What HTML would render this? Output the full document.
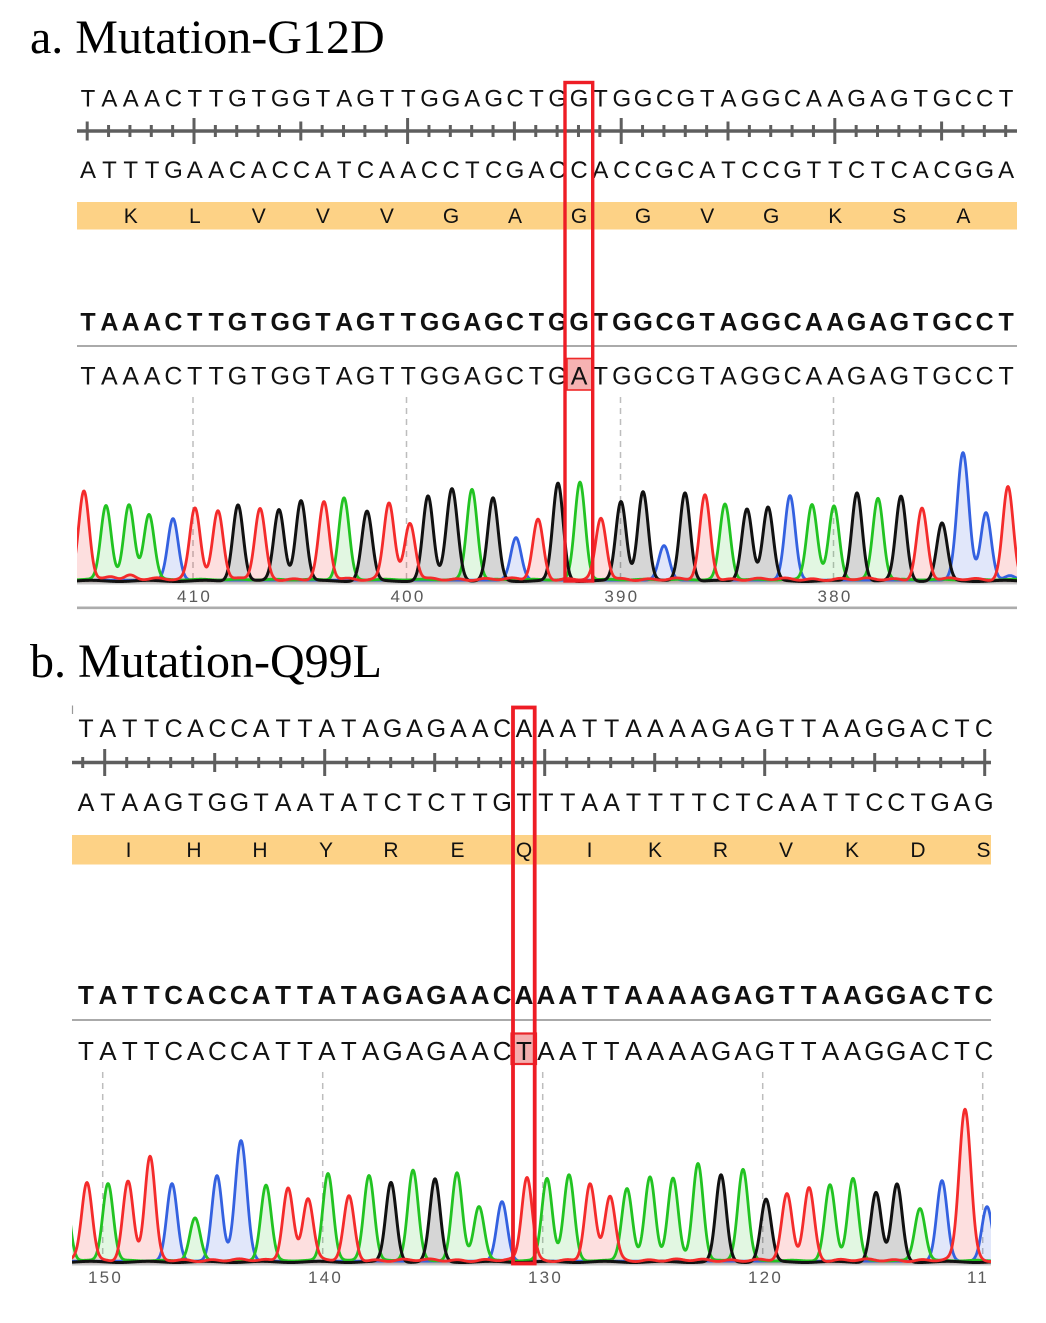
<!DOCTYPE html>
<html>
<head>
<meta charset="utf-8">
<style>
html,body{margin:0;padding:0;background:#fff;}
svg{display:block;}
.title{font-family:"Liberation Serif",serif;font-size:48px;fill:#000;}
.sq{font-family:"Liberation Sans",sans-serif;fill:#111;text-anchor:middle;}
.bd{font-weight:bold;}
.lbl{font-family:"Liberation Sans",sans-serif;font-size:17px;fill:#5a5a5a;letter-spacing:2.2px;text-anchor:middle;}
</style>
</head>
<body>
<svg id="root" width="1046" height="1323" viewBox="0 0 1046 1323" xmlns="http://www.w3.org/2000/svg">
<defs>
<clipPath id="cp1"><rect x="77" y="380" width="940" height="205"/></clipPath>
<clipPath id="cp2"><rect x="72" y="1060" width="919" height="206"/></clipPath>
</defs>

<!-- Titles -->
<text class="title" x="30" y="53">a. Mutation-G12D</text>
<text class="title" x="30" y="677">b. Mutation-Q99L</text>

<!-- ===== Section A ===== -->
<rect x="77" y="202" width="940" height="27.5" fill="#fdd286"/>
<line x1="77" y1="131" x2="1017" y2="131" stroke="#5e5e5e" stroke-width="3.4"/>
<g id="ticksA"></g>

<text class="sq" font-size="24" y="106.5" x="88 109.4 130.7 152.1 173.4 194.8 216.1 237.5 258.8 280.2 301.5 322.9 344.2 365.6 386.9 408.3 429.6 451 472.3 493.7 515 536.4 557.7 579.1 600.4 621.8 643.1 664.5 685.8 707.2 728.5 749.9 771.2 792.6 813.9 835.3 856.6 878 899.3 920.7 942 963.4 984.7 1006.1">TAAACTTGTGGTAGTTGGAGCTGGTGGCGTAGGCAAGAGTGCCT</text>
<text class="sq" font-size="24" y="178" x="88 109.4 130.7 152.1 173.4 194.8 216.1 237.5 258.8 280.2 301.5 322.9 344.2 365.6 386.9 408.3 429.6 451 472.3 493.7 515 536.4 557.7 579.1 600.4 621.8 643.1 664.5 685.8 707.2 728.5 749.9 771.2 792.6 813.9 835.3 856.6 878 899.3 920.7 942 963.4 984.7 1006.1">ATTTGAACACCATCAACCTCGACCACCGCATCCGTTCTCACGGA</text>
<text class="sq" font-size="21" y="223" x="130.7 194.8 258.8 322.9 386.9 451 515 579.1 643.1 707.2 771.2 835.3 899.3 963.4">KLVVVGAGGVGKSA</text>

<text class="sq bd" font-size="25" y="330.5" x="88 109.4 130.7 152.1 173.4 194.8 216.1 237.5 258.8 280.2 301.5 322.9 344.2 365.6 386.9 408.3 429.6 451 472.3 493.7 515 536.4 557.7 579.1 600.4 621.8 643.1 664.5 685.8 707.2 728.5 749.9 771.2 792.6 813.9 835.3 856.6 878 899.3 920.7 942 963.4 984.7 1006.1">TAAACTTGTGGTAGTTGGAGCTGGTGGCGTAGGCAAGAGTGCCT</text>
<line x1="77" y1="346" x2="1017" y2="346" stroke="#aaaaaa" stroke-width="2"/>
<rect x="567" y="358.5" width="25" height="31.5" fill="#f6b2b2" stroke="#ee2a2a" stroke-width="1.6"/>
<text class="sq" font-size="25" y="384.5" x="88 109.4 130.7 152.1 173.4 194.8 216.1 237.5 258.8 280.2 301.5 322.9 344.2 365.6 386.9 408.3 429.6 451 472.3 493.7 515 536.4 557.7 579.1 600.4 621.8 643.1 664.5 685.8 707.2 728.5 749.9 771.2 792.6 813.9 835.3 856.6 878 899.3 920.7 942 963.4 984.7 1006.1">TAAACTTGTGGTAGTTGGAGCTGATGGCGTAGGCAAGAGTGCCT</text>

<g stroke="#bdbdbd" stroke-width="1.5" stroke-dasharray="6,5">
<line x1="193" y1="397" x2="193" y2="580"/>
<line x1="406.5" y1="397" x2="406.5" y2="580"/>
<line x1="620.5" y1="397" x2="620.5" y2="580"/>
<line x1="833.5" y1="397" x2="833.5" y2="580"/>
</g>
<line x1="77" y1="583.5" x2="1017" y2="583.5" stroke="#c8c8c8" stroke-width="2"/>
<g id="chromA" clip-path="url(#cp1)"></g>
<text class="lbl" x="194.5" y="602">410</text>
<text class="lbl" x="408" y="602">400</text>
<text class="lbl" x="621.8" y="602">390</text>
<text class="lbl" x="835" y="602">380</text>
<line x1="77" y1="607.8" x2="1017" y2="607.8" stroke="#acacac" stroke-width="2.6"/>

<rect x="565" y="82.5" width="27.7" height="498.5" fill="none" stroke="#ee1d25" stroke-width="3.4"/>

<!-- ===== Section B ===== -->
<line x1="72.5" y1="705.5" x2="72.5" y2="714" stroke="#999" stroke-width="1.2"/>
<rect x="72" y="835" width="919" height="29.5" fill="#fdd286"/>
<line x1="72" y1="762.5" x2="991" y2="762.5" stroke="#5e5e5e" stroke-width="3.4"/>
<g id="ticksB"></g>

<text class="sq" font-size="25" y="737" x="86 107.9 129.8 151.7 173.6 195.5 217.4 239.3 261.2 283.1 305 326.9 348.8 370.7 392.6 414.5 436.4 458.3 480.2 502.1 524 545.9 567.8 589.7 611.6 633.5 655.4 677.3 699.2 721.1 743 764.9 786.8 808.7 830.6 852.5 874.4 896.3 918.2 940.1 962 983.9">TATTCACCATTATAGAGAACAAATTAAAAGAGTTAAGGACTC</text>
<text class="sq" font-size="25" y="811" x="86 107.9 129.8 151.7 173.6 195.5 217.4 239.3 261.2 283.1 305 326.9 348.8 370.7 392.6 414.5 436.4 458.3 480.2 502.1 524 545.9 567.8 589.7 611.6 633.5 655.4 677.3 699.2 721.1 743 764.9 786.8 808.7 830.6 852.5 874.4 896.3 918.2 940.1 962 983.9">ATAAGTGGTAATATCTCTTGTTTAATTTTCTCAATTCCTGAG</text>
<text class="sq" font-size="21" y="857" x="128.5 194 260 326 391 457.5 524 589.5 655 720.5 786 852 918 983.5">IHHYREQIKRVKDS</text>

<text class="sq bd" font-size="26" y="1004" x="86 107.9 129.8 151.7 173.6 195.5 217.4 239.3 261.2 283.1 305 326.9 348.8 370.7 392.6 414.5 436.4 458.3 480.2 502.1 524 545.9 567.8 589.7 611.6 633.5 655.4 677.3 699.2 721.1 743 764.9 786.8 808.7 830.6 852.5 874.4 896.3 918.2 940.1 962 983.9">TATTCACCATTATAGAGAACAAATTAAAAGAGTTAAGGACTC</text>
<line x1="72" y1="1020" x2="991" y2="1020" stroke="#aaaaaa" stroke-width="2"/>
<rect x="511.5" y="1033.5" width="24.5" height="30.5" fill="#f4aeae" stroke="#e8262a" stroke-width="2.2"/>
<text class="sq" font-size="26" y="1060" x="86 107.9 129.8 151.7 173.6 195.5 217.4 239.3 261.2 283.1 305 326.9 348.8 370.7 392.6 414.5 436.4 458.3 480.2 502.1 524 545.9 567.8 589.7 611.6 633.5 655.4 677.3 699.2 721.1 743 764.9 786.8 808.7 830.6 852.5 874.4 896.3 918.2 940.1 962 983.9">TATTCACCATTATAGAGAACTAATTAAAAGAGTTAAGGACTC</text>

<g stroke="#bdbdbd" stroke-width="1.5" stroke-dasharray="6,5">
<line x1="102.7" y1="1072" x2="102.7" y2="1262"/>
<line x1="322.7" y1="1072" x2="322.7" y2="1262"/>
<line x1="542.7" y1="1072" x2="542.7" y2="1262"/>
<line x1="762.7" y1="1072" x2="762.7" y2="1262"/>
<line x1="982.7" y1="1072" x2="982.7" y2="1262"/>
</g>
<line x1="72" y1="1264.5" x2="991" y2="1264.5" stroke="#c8c8c8" stroke-width="2"/>
<g id="chromB" clip-path="url(#cp2)"></g>
<text class="lbl" x="105.5" y="1283">150</text>
<text class="lbl" x="325.5" y="1283">140</text>
<text class="lbl" x="545.5" y="1283">130</text>
<text class="lbl" x="765.5" y="1283">120</text>
<text class="lbl" x="967" y="1283" style="text-anchor:start">11</text>

<rect x="513" y="707.5" width="21.7" height="556" fill="none" stroke="#ee1d25" stroke-width="3.8"/>
</svg>

<script>
(function(){
var NS='http://www.w3.org/2000/svg';
function el(tag,attrs,parent){var e=document.createElementNS(NS,tag);for(var k in attrs)e.setAttribute(k,attrs[k]);parent.appendChild(e);return e;}

function ticks(id,x0,step,n,y,tall,med,ht,hm,hs){
  var g=document.getElementById(id);var d='';
  for(var k=0;k<n;k++){
    var x=(x0+step*k).toFixed(2);
    var h=tall.indexOf(k)>=0?ht:(med.indexOf(k)>=0?hm:hs);
    d+='M'+x+' '+(y-h)+'V'+(y+h);
  }
  el('path',{d:d,stroke:'#5e5e5e','stroke-width':3,fill:'none'},g);
}
ticks('ticksA',87.2,21.36,44,131,[5,15,25,35],[0,10,20,30,40],13,9.5,6);
ticks('ticksB',82.7,22,42,762.5,[1,11,21,31,41],[6,16,26,36],13.5,9.5,5.5);

function chrom(id,peaks,base,x0,x1){
  var g=document.getElementById(id);
  var sig=5.2;
  var cols={r:'#f42b2b',g:'#22c322',b:'#3461e0',k:'#111111'};
  var fills={r:'rgba(244,43,43,0.15)',g:'rgba(34,195,34,0.13)',b:'rgba(52,97,224,0.15)',k:'rgba(0,0,0,0.16)'};
  var offs={r:-1.3,g:-0.9,b:-0.4,k:0.4};
  var order=['b','g','k','r'];
  var paths={};
  order.forEach(function(c){
    var ps=peaks.filter(function(p){return p[2]===c;});
    var pts=[];
    for(var x=x0-2;x<=x1+2;x+=0.5){
      var y=base+offs[c];
      if(c==='r')y+=0.9*Math.sin(x*0.23)+0.5*Math.sin(x*0.071);
      if(c==='k')y+=0.6*Math.sin(x*0.11+1);
      if(c==='g')y+=0.4*Math.sin(x*0.17+2);
      for(var i=0;i<ps.length;i++){
        var p=ps[i];var h=base-p[1];var s=p[3]||sig;var dd=x-p[0];
        y-=h*Math.exp(-dd*dd/(2*s*s));
      }
      pts.push([x,y]);
    }
    paths[c]=pts;
  });
  order.forEach(function(c){
    var d='M'+(x0-2)+' '+(base+2);
    paths[c].forEach(function(p){d+='L'+p[0].toFixed(1)+' '+p[1].toFixed(2);});
    d+='L'+(x1+2)+' '+(base+2)+'Z';
    el('path',{d:d,fill:fills[c],stroke:'none'},g);
  });
  order.forEach(function(c){
    var d='M'+paths[c].map(function(p){return p[0].toFixed(1)+' '+p[1].toFixed(2);}).join('L');
    el('path',{d:d,fill:'none',stroke:cols[c],'stroke-width':(c==='k'?3:2.8),'stroke-linejoin':'round'},g);
  });
}

var A=[[84,492,'r'],[106,506,'g'],[129,506,'g'],[149,515,'g'],[173,519,'b'],[195,508,'r'],[218,512,'r'],[238,504,'k'],[260,510,'r'],[279,509,'k'],[301,500,'k'],[324,504,'r'],[344,499,'g'],[367,511,'k'],[389,503,'r'],[410,525,'r'],[428,496,'k'],[452,488,'k',5.6],[472,490,'g'],[493,498,'k'],[516,538,'b'],[538,521,'r'],[558,483,'k'],[580,483,'g'],[601,520,'r'],[621,501,'k'],[643,491,'k'],[664,546,'b'],[685,492,'k'],[705,497,'r'],[725,505,'g'],[747,508,'k'],[768,507,'k'],[790,496,'b'],[812,505,'g'],[834,507,'g'],[857,492,'k'],[878,499,'g'],[901,496,'k'],[922,510,'r'],[942,523,'k'],[963,453,'b',5.8],[986,513,'b'],[1008,488,'r'],[1010,576,'b'],[112,577,'r'],[130,577,'r']];
chrom('chromA',A,580.5,77,1017);

var B=[[64,1180,'g'],[87,1183,'r'],[108,1184,'g'],[128,1183,'r'],[150,1158,'r'],[172,1184,'b'],[195,1219,'g'],[217,1176,'b'],[241,1141,'b',5.8],[266,1186,'g'],[288,1189,'r'],[308,1199,'r'],[328,1174,'g'],[349,1198,'r'],[369,1176,'g'],[391,1182,'k'],[413,1171,'g'],[435,1179,'k'],[457,1174,'g'],[479,1207,'g'],[502,1202,'b'],[527,1178,'r'],[547,1179,'g'],[569,1176,'g'],[590,1186,'r'],[610,1197,'r'],[627,1189,'g'],[650,1178,'g'],[673,1179,'g'],[698,1164,'g'],[721,1175,'k'],[743,1170,'g'],[766,1199,'k'],[787,1196,'r'],[809,1189,'r'],[830,1186,'g'],[853,1179,'g'],[876,1192,'k'],[897,1184,'k'],[920,1209,'g'],[942,1181,'b'],[965,1110,'r',5.8],[987,1207,'b']];
chrom('chromB',B,1261.5,72,991);
})();
</script>
</body>
</html>
